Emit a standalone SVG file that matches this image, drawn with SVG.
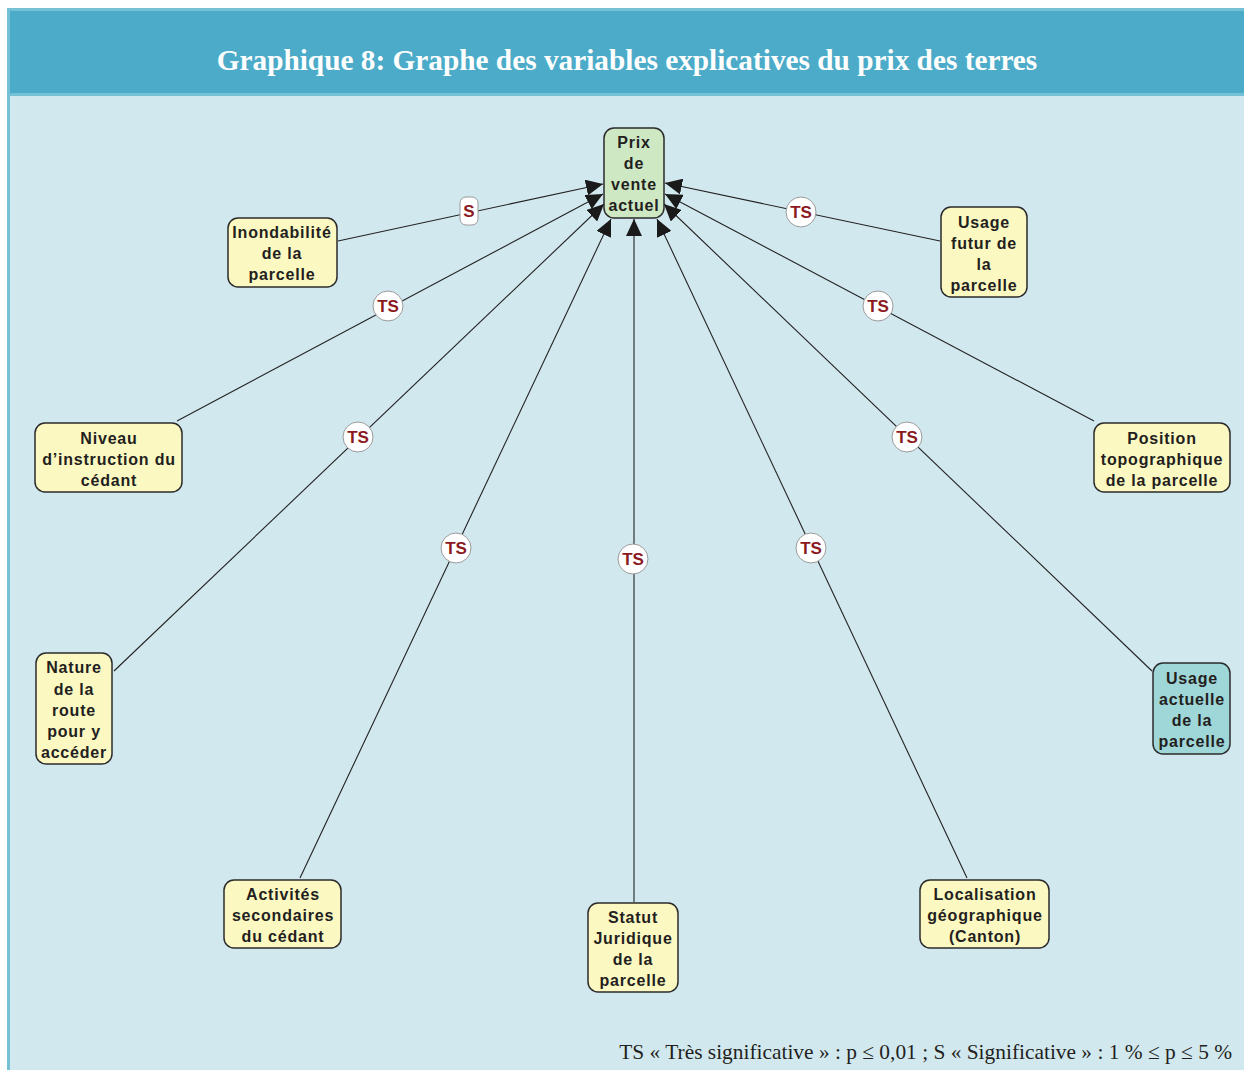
<svg xmlns="http://www.w3.org/2000/svg" width="1244" height="1070" viewBox="0 0 1244 1070">
<style>
.nt{font-family:"Liberation Sans",Arial,sans-serif;font-weight:bold;font-size:16px;letter-spacing:0.8px;fill:#231f20;text-anchor:middle}
.box{fill:#fcf8c2;stroke:#2b2b2b;stroke-width:1.5}
.lab{fill:#ffffff;stroke:#9a9a9a;stroke-width:1}
.lt{font-family:"Liberation Sans",Arial,sans-serif;font-weight:bold;font-size:17px;fill:#8b1a1f;text-anchor:middle}
.edge{stroke:#222;stroke-width:1.1;fill:none;marker-end:url(#ah)}
</style>
<defs>
<marker id="ah" markerUnits="userSpaceOnUse" markerWidth="18" markerHeight="16" refX="17" refY="8" orient="auto">
<path d="M0,0 L17,8 L0,16 Z" fill="#1a1a1a"/>
</marker>
</defs>
<rect x="0" y="0" width="1244" height="1070" fill="#ffffff"/>
<rect x="7" y="8" width="1240" height="1070" fill="#74c0d4"/>
<rect x="10" y="11" width="1240" height="82" fill="#4babc8"/>
<rect x="10" y="96" width="1240" height="980" fill="#d2e8ef"/>
<text x="627" y="70" font-family="Liberation Serif,'Times New Roman',serif" font-weight="bold" font-size="29.3" fill="#ffffff" text-anchor="middle">Graphique 8: Graphe des variables explicatives du prix des terres</text>

<g id="connectors">
<line class="edge" x1="338" y1="241" x2="603" y2="184"/>
<line class="edge" x1="940" y1="241" x2="665" y2="183"/>
<line class="edge" x1="177" y1="421" x2="603" y2="194"/>
<line class="edge" x1="1094" y1="421" x2="665" y2="194"/>
<line class="edge" x1="114" y1="671" x2="604" y2="204"/>
<line class="edge" x1="1152" y1="671" x2="664" y2="204"/>
<line class="edge" x1="300" y1="878" x2="611" y2="219"/>
<line class="edge" x1="634" y1="902" x2="634" y2="219"/>
<line class="edge" x1="967" y1="878" x2="657" y2="219"/>
</g>

<g id="labels">
<rect class="lab" x="460" y="197" width="18" height="28" rx="6"/>
<text class="lt" x="469" y="217">S</text>
<circle class="lab" cx="801" cy="212" r="15"/><text class="lt" x="801" y="218">TS</text>
<circle class="lab" cx="388" cy="306" r="15"/><text class="lt" x="388" y="312">TS</text>
<circle class="lab" cx="878" cy="306" r="15"/><text class="lt" x="878" y="312">TS</text>
<circle class="lab" cx="358" cy="437" r="15"/><text class="lt" x="358" y="443">TS</text>
<circle class="lab" cx="907" cy="437" r="15"/><text class="lt" x="907" y="443">TS</text>
<circle class="lab" cx="456" cy="548" r="15"/><text class="lt" x="456" y="554">TS</text>
<circle class="lab" cx="633" cy="559" r="15"/><text class="lt" x="633" y="565">TS</text>
<circle class="lab" cx="811" cy="548" r="15"/><text class="lt" x="811" y="554">TS</text>
</g>

<g id="n-prix">
<rect x="604" y="128" width="60" height="90" rx="10" fill="#cfe8c4" stroke="#2b2b2b" stroke-width="1.5"/>
<text class="nt" x="634" y="148">Prix</text>
<text class="nt" x="634" y="169">de</text>
<text class="nt" x="634" y="190">vente</text>
<text class="nt" x="634" y="211">actuel</text>
</g>

<g id="n-inondabilite">
<rect class="box" x="228" y="218" width="109" height="69" rx="10"/>
<text class="nt" x="282" y="238">Inondabilité</text>
<text class="nt" x="282" y="259">de la</text>
<text class="nt" x="282" y="280">parcelle</text>
</g>

<g id="n-usage-futur">
<rect class="box" x="941" y="207" width="86" height="90" rx="10"/>
<text class="nt" x="984" y="228">Usage</text>
<text class="nt" x="984" y="249">futur de</text>
<text class="nt" x="984" y="270">la</text>
<text class="nt" x="984" y="291">parcelle</text>
</g>

<g id="n-niveau">
<rect class="box" x="35" y="423" width="147" height="69" rx="10"/>
<text class="nt" x="109" y="444">Niveau</text>
<text class="nt" x="109" y="465">d’instruction du</text>
<text class="nt" x="109" y="486">cédant</text>
</g>

<g id="n-position">
<rect class="box" x="1094" y="423" width="136" height="69" rx="10"/>
<text class="nt" x="1162" y="444">Position</text>
<text class="nt" x="1162" y="465">topographique</text>
<text class="nt" x="1162" y="486">de la parcelle</text>
</g>

<g id="n-nature">
<rect class="box" x="36" y="653" width="76" height="111" rx="10"/>
<text class="nt" x="74" y="673">Nature</text>
<text class="nt" x="74" y="695">de la</text>
<text class="nt" x="74" y="716">route</text>
<text class="nt" x="74" y="737">pour y</text>
<text class="nt" x="74" y="758">accéder</text>
</g>

<g id="n-usage-actuelle">
<rect x="1153" y="663" width="77" height="91" rx="10" fill="#9fd6d8" stroke="#2b2b2b" stroke-width="1.5"/>
<text class="nt" x="1192" y="684">Usage</text>
<text class="nt" x="1192" y="705">actuelle</text>
<text class="nt" x="1192" y="726">de la</text>
<text class="nt" x="1192" y="747">parcelle</text>
</g>

<g id="n-activites">
<rect class="box" x="224" y="880" width="117" height="68" rx="10"/>
<text class="nt" x="283" y="900">Activités</text>
<text class="nt" x="283" y="921">secondaires</text>
<text class="nt" x="283" y="942">du cédant</text>
</g>

<g id="n-statut">
<rect class="box" x="588" y="903" width="90" height="89" rx="10"/>
<text class="nt" x="633" y="923">Statut</text>
<text class="nt" x="633" y="944">Juridique</text>
<text class="nt" x="633" y="965">de la</text>
<text class="nt" x="633" y="986">parcelle</text>
</g>

<g id="n-localisation">
<rect class="box" x="920" y="880" width="129" height="68" rx="10"/>
<text class="nt" x="985" y="900">Localisation</text>
<text class="nt" x="985" y="921">géographique</text>
<text class="nt" x="985" y="942">(Canton)</text>
</g>

<text x="1232" y="1059" font-family="Liberation Serif,'Times New Roman',serif" font-size="21.4" fill="#231f20" text-anchor="end">TS « Très significative » : p ≤ 0,01 ; S « Significative » : 1 % ≤ p ≤ 5 %</text>
</svg>
